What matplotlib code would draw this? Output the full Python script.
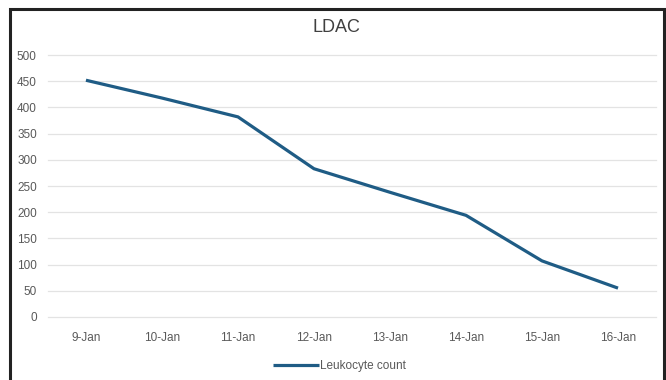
import matplotlib.pyplot as plt
from matplotlib.patches import Rectangle

dates = ['9-Jan', '10-Jan', '11-Jan', '12-Jan', '13-Jan', '14-Jan', '15-Jan', '16-Jan']
leukocytes = [452, 418, 382, 283, 238, 194, 107, 55]
yticks = list(range(0, 501, 50))

plt.rcParams['font.family'] = ['Liberation Sans', 'DejaVu Sans']

fig = plt.figure(figsize=(6.66, 3.80), dpi=100)
ax = fig.add_axes([0.072, 0.166, 0.913, 0.689])

x = list(range(len(dates)))
ax.plot(x, leukocytes, color='#1f5c85', lw=2.3, label='Leukocyte count', solid_capstyle='butt')

ax.set_xlim(-0.5, len(dates) - 0.5)
ax.set_ylim(0, 500)
ax.set_yticks(yticks)
ax.set_xticks(x)
ax.set_xticklabels(dates)
ax.tick_params(length=0, colors='#595959', labelsize=8.5)
ax.tick_params(axis='x', pad=11)
ax.tick_params(axis='y', pad=8)
ax.grid(axis='y', color='#e3e3e3', lw=0.9)
for gl in ax.get_ygridlines():
    gl.set_clip_on(False)
ax.set_axisbelow(True)
for s in ax.spines.values():
    s.set_visible(False)

fig.text(0.505, 0.928, 'LDAC', ha='center', va='center', fontsize=13, color='#404040')

leg = ax.legend(loc='center', bbox_to_anchor=(0.48, -0.187), frameon=False,
                fontsize=8.5, handlelength=3.9, handletextpad=0.1)
for t in leg.get_texts():
    t.set_color('#595959')

fig.patches.append(Rectangle((0.015, -0.05), 0.982, 1.027, transform=fig.transFigure,
                             fill=False, edgecolor='#222222', lw=2.2))

fig.savefig('out.png', dpi=100)
